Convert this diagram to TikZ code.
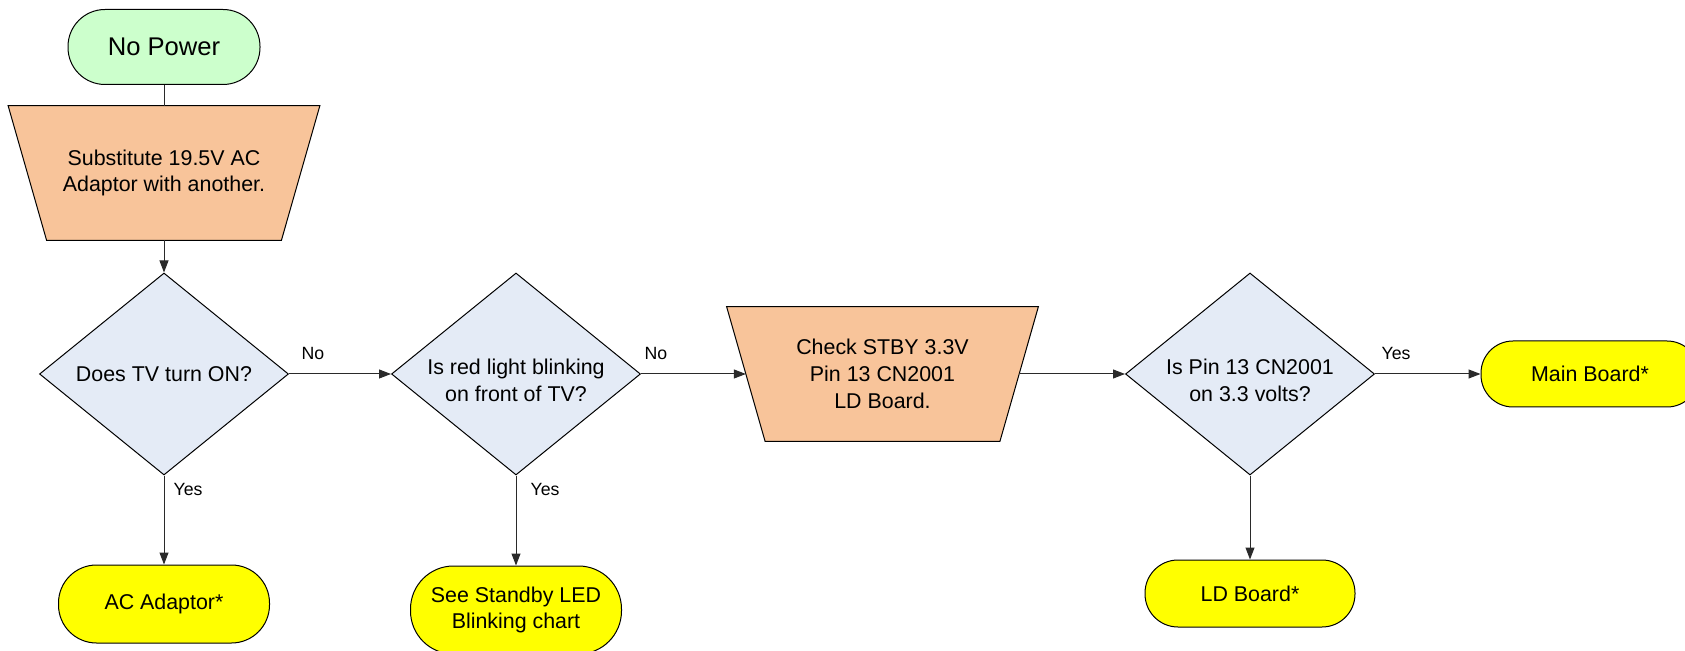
\documentclass[tikz,border=0pt]{standalone}
\usepackage{fontspec}
\setmainfont{Liberation Sans}
\usetikzlibrary{shapes.geometric,arrows.meta}
\pgfdeclarelayer{background}
\pgfsetlayers{background,main}
\definecolor{startgreen}{HTML}{CCFFCC}
\definecolor{procpeach}{HTML}{F8C49A}
\definecolor{decblue}{HTML}{E4EBF6}
\definecolor{termyellow}{HTML}{FFFF00}
\definecolor{linegray}{HTML}{2A2A2A}
\begin{document}
\begin{tikzpicture}[x=0.5pt,y=-0.5pt,
  every node/.style={font=\fontsize{10.7}{13.4}\selectfont},
  term/.style={draw=black,line width=0.5pt,fill=termyellow,rectangle,align=center,inner sep=0pt},
  proc/.style={rectangle,minimum width=136.25pt,minimum height=67pt,align=center,inner sep=0pt},
  procshape/.style={draw=black,line width=0.5pt,fill=procpeach,line join=miter},
  dec/.style={draw=black,line width=0.5pt,fill=decblue,diamond,aspect=1.23,minimum width=124.5pt,minimum height=101pt,align=center,inner sep=0pt},
  dectext/.style={align=center,inner sep=0pt,yshift=-3pt,font=\fontsize{10.7}{13.4}\selectfont},
  lbl/.style={font=\fontsize{8.85}{10}\selectfont,inner sep=0pt},
  conn/.style={draw=linegray,line width=0.5pt},
  arr/.style={conn,-{Triangle[length=6pt,width=4.5pt]}}
]
\useasboundingbox (0,0) rectangle (1685,651);
\clip (0,0) rectangle (1685,651);

\node[term,fill=startgreen,minimum width=96pt,minimum height=37.5pt,rounded corners=18.5pt,font=\fontsize{12.8}{15}\selectfont] (np) at (164,47) {No Power};
\node[proc] (t1) at (164,173) {Substitute 19.5V AC\\Adaptor with another.};
\node[dec] (d1) at (164,374) {Does TV turn ON?};
\node[term,minimum width=105.5pt,minimum height=39pt,rounded corners=19pt] (ac) at (164,604) {AC Adaptor*};
\node[dec,label={[dectext]center:{Is red light blinking\\on front of TV?}}] (d2) at (516,374) {};
\node[term,minimum width=105.5pt,minimum height=44pt,rounded corners=21.5pt] (sb) at (516,610) {See Standby LED\\Blinking chart};
\node[proc] (t2) at (882.5,374) {Check STBY 3.3V\\Pin 13 CN2001\\LD Board.};
\node[dec,label={[dectext]center:{Is Pin 13 CN2001\\on 3.3 volts?}}] (d3) at (1250,374) {};
\node[term,minimum width=109pt,minimum height=33pt,rounded corners=16pt] (mb) at (1590,374) {Main Board*};
\node[term,minimum width=105pt,minimum height=33.5pt,rounded corners=16.5pt] (ld) at (1250,593.5) {LD Board*};

\begin{pgfonlayer}{background}
\foreach \t in {t1,t2}{
  \path[procshape] ([xshift=-9.625pt]\t.north west) -- ([xshift=9.625pt]\t.north east)
    -- ([xshift=-9.625pt]\t.south east) -- ([xshift=9.625pt]\t.south west) -- cycle;
}
\end{pgfonlayer}

\node[lbl] (l1) at (313,354) {No};
\node[lbl] (l2) at (656,354) {No};
\node[lbl] (l3) at (188,489) {Yes};
\node[lbl] (l4) at (545,489) {Yes};
\node[lbl] (l5) at (1396,354) {Yes};

\draw[conn] (np) -- (t1);
\draw[arr] (t1) -- (d1);
\draw[arr] (d1) -- (d2);
\draw[arr] (d1) -- (ac);
\draw[arr] (d2) -- (t2);
\draw[arr] (d2) -- (sb);
\draw[arr] (t2) -- (d3);
\draw[arr] (d3) -- (mb);
\draw[arr] (d3) -- (ld);
\end{tikzpicture}
\end{document}
